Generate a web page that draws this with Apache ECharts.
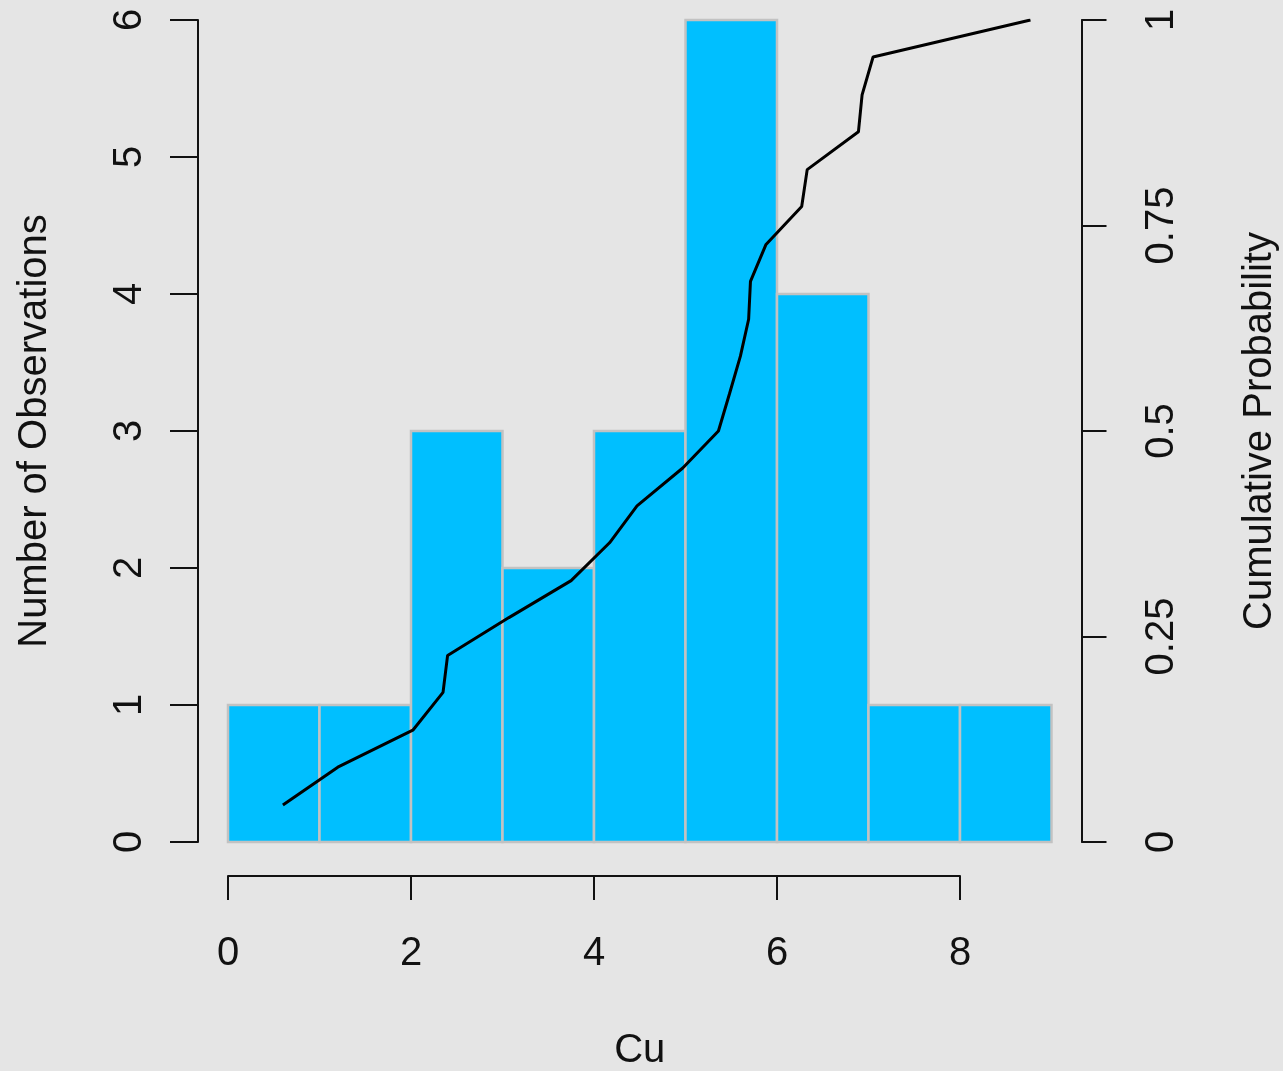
<!DOCTYPE html>
<html>
<head>
<meta charset="utf-8">
<title>Cu histogram with cumulative probability</title>
<script src="https://cdn.jsdelivr.net/npm/echarts@6/dist/echarts.min.js"></script>
<style>
  html, body { margin: 0; padding: 0; background: #e5e5e5; }
  #chart { width: 1283px; height: 1071px; }
</style>
</head>
<body>
<div id="chart"></div>
<script>
// Histogram bins of Cu (lower edge, upper edge) and observation counts
const binStart = [0, 1, 2, 3, 4, 5, 6, 7, 8];
const binEnd   = [1, 2, 3, 4, 5, 6, 7, 8, 9];
const counts   = [1, 1, 3, 2, 3, 6, 4, 1, 1];

// Sorted Cu values and their cumulative probability
const cumCu   = [0.60, 1.20, 2.02, 2.35, 2.40, 3.07, 3.75, 4.17, 4.47, 4.97, 5.36,
                 5.48, 5.60, 5.69, 5.71, 5.88, 6.27, 6.33, 6.89, 6.93, 7.05, 8.77];
const cumProb = [0.045, 0.091, 0.136, 0.182, 0.227, 0.273, 0.318, 0.364, 0.409, 0.455, 0.500,
                 0.545, 0.591, 0.636, 0.682, 0.727, 0.773, 0.818, 0.864, 0.909, 0.955, 1.000];

// Tick labels
const cuTicks    = ['0', '2', '4', '6', '8'];
const countTicks = ['0', '1', '2', '3', '4', '5', '6'];
const probTicks  = ['0', '0.25', '0.5', '0.75', '1'];

const FONT = "'Liberation Sans', Arial, Helvetica, sans-serif";
const INK = '#111111';

const histData = binStart.map((s, i) => [s, binEnd[i], counts[i]]);
const cdfData = cumCu.map((x, i) => [x, cumProb[i]]);

const chart = echarts.init(document.getElementById('chart'), null, { renderer: 'canvas' });

const axisLine = { show: true, onZero: false, lineStyle: { color: INK, width: 2 } };
const labelStyle = { color: INK, fontFamily: FONT, fontSize: 40 };

chart.setOption({
  backgroundColor: '#e5e5e5',
  animation: false,
  grid: [
    { left: 228, top: 20, width: 823.5, height: 822, outerBoundsMode: 'none', containLabel: false },
    { left: 228, top: 20, width: 732, height: 822, outerBoundsMode: 'none', containLabel: false }
  ],
  xAxis: [
    {
      // full 0-9 scale of the bars; only carries the axis title
      gridIndex: 0, type: 'value', min: 0, max: 9,
      position: 'bottom', offset: 34,
      axisLine: { show: false, onZero: false },
      axisTick: { show: false },
      axisLabel: { show: false },
      splitLine: { show: false },
      name: 'Cu', nameLocation: 'middle', nameGap: 155,
      nameTextStyle: labelStyle
    },
    {
      // drawn Cu axis, 0-8
      gridIndex: 1, type: 'value', min: 0, max: 8, interval: 2,
      position: 'bottom', offset: 34,
      axisLine: axisLine,
      axisTick: { show: true, length: 24, lineStyle: { color: INK, width: 2 } },
      splitLine: { show: false },
      axisLabel: Object.assign({ margin: 58, formatter: (v) => cuTicks[v / 2] }, labelStyle)
    }
  ],
  yAxis: [
    {
      gridIndex: 0, type: 'value', min: 0, max: 6, interval: 1,
      position: 'left', offset: 30,
      axisLine: axisLine,
      axisTick: { show: true, length: 28, lineStyle: { color: INK, width: 2 } },
      splitLine: { show: false },
      axisLabel: Object.assign({ margin: 48, rotate: 90, formatter: (v) => countTicks[v] }, labelStyle),
      name: 'Number of Observations', nameLocation: 'middle', nameGap: 143, nameRotate: 90,
      nameTextStyle: labelStyle
    },
    {
      gridIndex: 0, type: 'value', min: 0, max: 1, interval: 0.25,
      position: 'right', offset: 30,
      axisLine: axisLine,
      axisTick: { show: true, length: 25, lineStyle: { color: INK, width: 2 } },
      splitLine: { show: false },
      axisLabel: Object.assign({ margin: 60, rotate: 90, formatter: (v) => probTicks[Math.round(v * 4)] }, labelStyle),
      name: 'Cumulative Probability', nameLocation: 'middle', nameGap: 158, nameRotate: 90,
      nameTextStyle: labelStyle
    },
    { gridIndex: 1, type: 'value', min: 0, max: 1, show: false }
  ],
  series: [
    {
      type: 'custom',
      xAxisIndex: 0, yAxisIndex: 0,
      data: histData,
      renderItem: function (params, api) {
        const top = api.coord([api.value(0), api.value(2)]);
        const bottom = api.coord([api.value(1), 0]);
        return {
          type: 'rect',
          shape: { x: top[0], y: top[1], width: bottom[0] - top[0], height: bottom[1] - top[1] },
          style: { fill: '#00bfff', stroke: '#c2c2c2', lineWidth: 2.5 }
        };
      }
    },
    {
      type: 'line',
      xAxisIndex: 0, yAxisIndex: 1,
      data: cdfData,
      symbol: 'none',
      lineStyle: { color: '#000000', width: 3 },
      z: 5
    }
  ]
});
</script>
</body>
</html>
